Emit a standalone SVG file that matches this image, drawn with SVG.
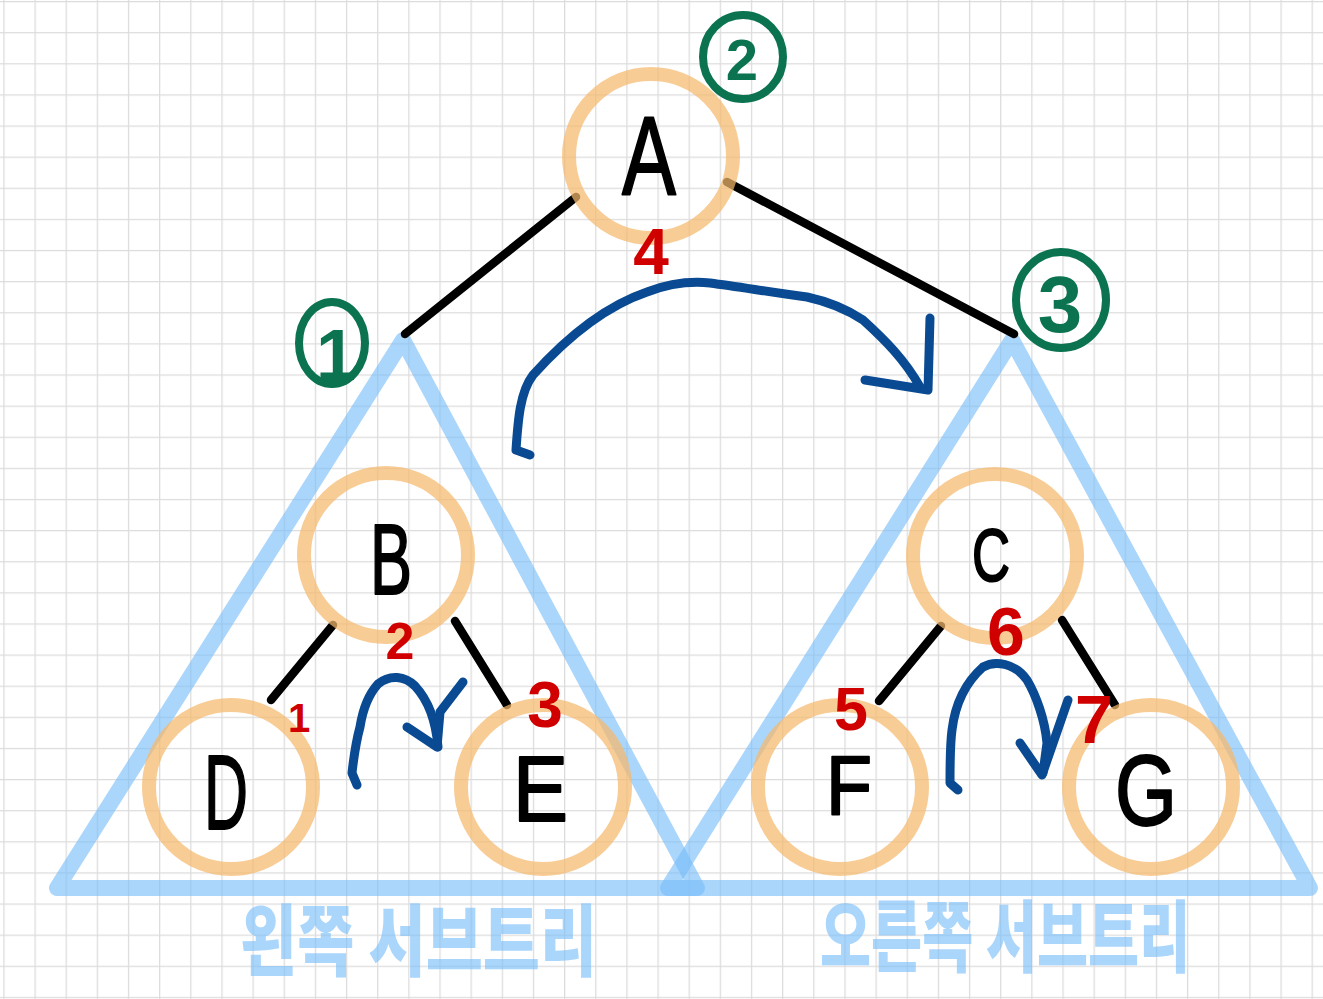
<svg xmlns="http://www.w3.org/2000/svg" width="1323" height="999" viewBox="0 0 1323 999">
<defs>
<pattern id="grid" x="3.3" y="1" width="31.15" height="31.12" patternUnits="userSpaceOnUse">
<path d="M0.6 0 V31.12 M0 0.6 H31.15" fill="none" stroke="#dcdcdc" stroke-width="1.3"/>
</pattern>
<style>
.circ{fill:none;stroke:#f5b86c;stroke-opacity:0.72;stroke-width:14}
.tri{fill:none;stroke:#78bdfa;stroke-opacity:0.62;stroke-width:16;stroke-linejoin:round;stroke-linecap:round}
.edge{fill:none;stroke:#000;stroke-width:8.5;stroke-linecap:round}
.arrow{fill:none;stroke:#0a4a92;stroke-width:9;stroke-linecap:round;stroke-linejoin:round}
.letter{font-family:"Liberation Sans",Arial,sans-serif;fill:#000;stroke:#000;stroke-width:2;stroke-linejoin:round}
.red{font-family:"Liberation Sans",Arial,sans-serif;font-weight:bold;fill:#d10000}
.gcirc{fill:none;stroke:#0b7350;stroke-width:8}
.gnum{font-family:"Liberation Sans",Arial,sans-serif;font-weight:bold;fill:#0b7350;text-anchor:middle}
.kor{font-family:"Noto Sans CJK KR",sans-serif;font-weight:900;fill:#78bdfa;fill-opacity:0.62}
</style>
</defs>
<rect width="1323" height="999" fill="#fff"/>
<rect width="1323" height="999" fill="url(#grid)"/>

<g id="subtrees">
<path class="tri" d="M403 340 L57 888 L697 888 Z"/>
<path class="tri" d="M1012 340 L668 888 L1310 888 Z"/>
<text class="kor" transform="translate(240 970) scale(0.72 1)" x="0" y="0" font-size="78" textLength="496" lengthAdjust="spacingAndGlyphs">왼쪽 서브트리</text>
<text class="kor" transform="translate(820 966) scale(0.66 1)" x="0" y="0" font-size="78" textLength="561" lengthAdjust="spacingAndGlyphs">오른쪽 서브트리</text>
</g>

<g id="connectors">
<line class="edge" x1="576" y1="197" x2="405" y2="334"/>
<line class="edge" x1="727" y1="182" x2="1014" y2="334"/>
<line class="edge" x1="333" y1="625" x2="271" y2="700"/>
<line class="edge" x1="455" y1="621" x2="507" y2="705"/>
<line class="edge" x1="941" y1="626" x2="879" y2="701"/>
<line class="edge" x1="1062" y1="620" x2="1115" y2="705"/>
</g>

<g id="node-A"><circle class="circ" cx="651" cy="156" r="82"/><text class="letter" x="622" y="194" font-size="112" textLength="54" lengthAdjust="spacingAndGlyphs">A</text></g>
<g id="node-B"><circle class="circ" cx="386" cy="555" r="82"/><text class="letter" x="370" y="594" font-size="100" textLength="42" lengthAdjust="spacingAndGlyphs">B</text></g>
<g id="node-C"><circle class="circ" cx="995" cy="556" r="82"/><text class="letter" x="972" y="581" font-size="74" textLength="38" lengthAdjust="spacingAndGlyphs">C</text></g>
<g id="node-D"><circle class="circ" cx="231" cy="787" r="82"/><text class="letter" x="204" y="829" font-size="106" textLength="44" lengthAdjust="spacingAndGlyphs">D</text></g>
<g id="node-E"><circle class="circ" cx="543" cy="787" r="82"/><text class="letter" x="513" y="821" font-size="92" textLength="55" lengthAdjust="spacingAndGlyphs">E</text></g>
<g id="node-F"><circle class="circ" cx="840" cy="787" r="82"/><text class="letter" x="826" y="814" font-size="84" textLength="46" lengthAdjust="spacingAndGlyphs">F</text></g>
<g id="node-G"><circle class="circ" cx="1151" cy="787" r="82"/><text class="letter" x="1115" y="825" font-size="100" textLength="62" lengthAdjust="spacingAndGlyphs">G</text></g>

<g id="arrows">
<path class="arrow" d="M530 455 L516 450 C518 420 520 392 533 375 C560 345 600 308 647 292 C668 284 690 281 710 283 C740 287 770 292 807 297 C830 302 848 310 863 320 C885 340 905 360 920 387"/>
<path class="arrow" d="M865 380 L928 390 L930 318"/>
<path class="arrow" d="M357 785 L352 773 C354 755 357 738 360 727 C363 708 368 695 378 684 C390 674 405 676 415 686 C428 700 436 722 438 747"/>
<path class="arrow" d="M407 727 L437 747 L440 712 L463 682"/>
<path class="arrow" d="M958 790 L950 783 C950 765 950 745 952 730 C955 705 965 683 983 667 C995 660 1015 663 1027 680 C1036 695 1045 720 1047 743 L1043 773"/>
<path class="arrow" d="M1020 743 L1042 775 L1068 700"/>
</g>

<g id="order-labels">
<text class="red" x="651" y="274" font-size="64" text-anchor="middle">4</text>
<text class="red" x="400" y="659" font-size="52" text-anchor="middle">2</text>
<text class="red" x="299" y="732" font-size="40" text-anchor="middle">1</text>
<text class="red" x="545" y="727" font-size="64" text-anchor="middle">3</text>
<text class="red" x="1006" y="655" font-size="68" text-anchor="middle">6</text>
<text class="red" x="851" y="730" font-size="61" text-anchor="middle">5</text>
<text class="red" x="1094" y="743" font-size="68" text-anchor="middle">7</text>
</g>

<g id="visit-order">
<ellipse class="gcirc" cx="743" cy="57" rx="40" ry="42"/>
<text class="gnum" x="742" y="80" font-size="58">2</text>
<ellipse class="gcirc" cx="332" cy="343" rx="33" ry="41"/>
<text class="gnum" x="336" y="380" font-size="72">1</text>
<ellipse class="gcirc" cx="1061" cy="300" rx="45" ry="48"/>
<text class="gnum" x="1060" y="332" font-size="80">3</text>
</g>
</svg>
